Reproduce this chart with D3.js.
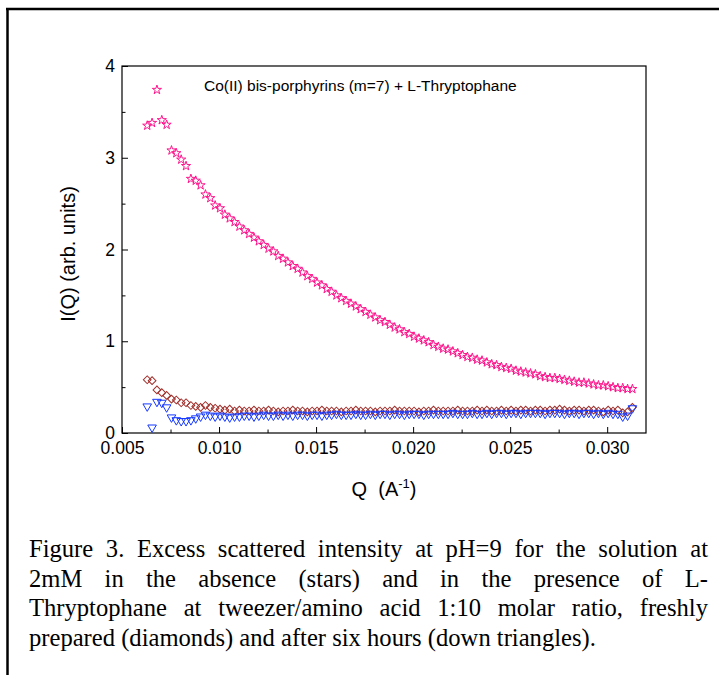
<!DOCTYPE html>
<html><head><meta charset="utf-8">
<script src="https://cdn.jsdelivr.net/npm/d3@7"></script>
<style>body{margin:0;background:#fff}svg{display:block}</style>
</head><body>
<svg id="c" width="719" height="675"></svg>
<script>
const Q = [0.0063,0.00655,0.0068,0.00705,0.0073,0.00755,0.0078,0.00805,0.0083,0.00855,
0.0088,0.00905,0.0093,0.00955,0.0098,0.01005,0.0103,0.01055,0.0108,0.01105,
0.0113,0.01155,0.0118,0.01205,0.0123,0.01255,0.0128,0.01305,0.0133,0.01355,
0.0138,0.01405,0.0143,0.01455,0.0148,0.01505,0.0153,0.01555,0.0158,0.01605,
0.0163,0.01655,0.0168,0.01705,0.0173,0.01755,0.0178,0.01805,0.0183,0.01855,
0.0188,0.01905,0.0193,0.01955,0.0198,0.02005,0.0203,0.02055,0.0208,0.02105,
0.0213,0.02155,0.0218,0.02205,0.0223,0.02255,0.0228,0.02305,0.0233,0.02355,
0.0238,0.02405,0.0243,0.02455,0.0248,0.02505,0.0253,0.02555,0.0258,0.02605,
0.0263,0.02655,0.0268,0.02705,0.0273,0.02755,0.0278,0.02805,0.0283,0.02855,
0.0288,0.02905,0.0293,0.02955,0.0298,0.03005,0.0303,0.03055,0.0308,0.03105,
0.0313];

const starsI = [3.35,3.38,3.74,3.41,3.36,3.08,3.05,2.98,2.91,2.77,
2.75,2.70,2.60,2.56,2.48,2.45,2.38,2.34,2.30,2.25,
2.21,2.17,2.13,2.09,2.05,2.01,1.98,1.93,1.90,1.86,
1.82,1.79,1.75,1.71,1.68,1.64,1.61,1.57,1.54,1.50,
1.47,1.44,1.41,1.38,1.35,1.32,1.29,1.26,1.23,1.21,
1.18,1.15,1.13,1.10,1.08,1.05,1.03,1.01,0.99,0.96,
0.94,0.92,0.91,0.89,0.87,0.85,0.83,0.82,0.80,0.79,
0.77,0.75,0.74,0.72,0.71,0.70,0.68,0.67,0.66,0.65,
0.64,0.62,0.61,0.60,0.60,0.59,0.58,0.57,0.56,0.55,
0.55,0.54,0.53,0.52,0.52,0.51,0.50,0.49,0.49,0.48,
0.48];

const diamondsI = [0.58,0.57,0.47,0.44,0.41,0.37,0.36,0.33,0.33,0.30,
0.29,0.28,0.30,0.28,0.27,0.26,0.25,0.26,0.24,0.25,
0.24,
0.24,0.25,0.24,0.24,0.25,0.24,0.23,0.24,0.24,0.25,0.24,0.24,0.23,0.24,0.24,0.25,0.24,0.24,0.24,0.23,
0.24,0.24,0.25,0.24,0.24,0.24,0.23,0.24,0.24,0.24,0.25,0.24,0.24,0.24,0.24,0.23,0.24,0.24,0.25,0.24,
0.24,0.24,0.24,0.25,0.24,0.24,0.24,0.25,0.24,0.25,0.24,0.24,0.25,0.24,0.25,0.24,0.25,0.25,0.24,0.25,
0.25,0.24,0.25,0.25,0.26,0.25,0.24,0.25,0.25,0.24,0.25,0.25,0.24,0.23,0.25,0.24,0.25,0.22,0.23,
0.28];

const trianglesI = [0.29,0.06,0.34,0.33,0.28,0.17,0.14,0.13,0.13,0.14,
0.16,0.18,0.20,0.19,0.18,0.19,0.18,0.17,0.18,0.18,
0.19,
0.19,0.18,0.19,0.20,0.19,0.19,0.20,0.19,0.20,0.19,0.20,0.20,0.19,0.20,0.20,0.19,0.20,0.20,0.21,0.20,
0.20,0.20,0.21,0.20,0.20,0.21,0.20,0.21,0.21,0.20,0.21,0.21,0.20,0.21,0.21,0.21,0.20,0.21,0.21,0.21,
0.21,0.21,0.22,0.21,0.21,0.21,0.22,0.21,0.21,0.22,0.21,0.22,0.22,0.21,0.22,0.22,0.21,0.22,0.22,0.22,
0.22,0.21,0.22,0.22,0.22,0.21,0.22,0.22,0.21,0.22,0.22,0.21,0.22,0.21,0.22,0.21,0.21,0.18,0.19,
0.27];

const xTicks = [0.005,0.010,0.015,0.020,0.025,0.030];
const xMinor = [0.0075,0.0125,0.0175,0.0225,0.0275];
const yTicks = [0,1,2,3,4];
const yMinor = [0.5,1.5,2.5,3.5];
const legendText = "Co(II) bis-porphyrins (m=7) + L-Thryptophane";
const yTitle = "I(Q) (arb. units)";
const captionLines = [
 "Figure 3. Excess scattered intensity at pH=9 for the solution at",
 "2mM in the absence (stars) and in the presence of L-",
 "Thryptophane at tweezer/amino acid 1:10 molar ratio, freshly",
 "prepared (diamonds) and after six hours (down triangles)."
];

const svg = d3.select("#c");
const L = 122, T = 66, R = 646, B = 433;
const x = d3.scaleLinear().domain([0.005, 0.0320]).range([L, R]);
const y = d3.scaleLinear().domain([0, 4]).range([B, T]);

// outer frame (top & left)
svg.append("line").attr("x1",6).attr("x2",719).attr("y1",9).attr("y2",9).attr("stroke","#000").attr("stroke-width",2.5);
svg.append("line").attr("x1",7.5).attr("x2",7.5).attr("y1",8).attr("y2",675).attr("stroke","#000").attr("stroke-width",2.5);

const font = "Arial, 'Liberation Sans', sans-serif";

// x axis
const gx = svg.append("g").attr("transform",`translate(0,${B})`)
  .call(d3.axisBottom(x).tickValues(xTicks).tickFormat(d3.format(".3f")).tickSizeInner(-6).tickSizeOuter(0).tickPadding(9));
gx.select(".domain").remove();
gx.selectAll("text").attr("font-size",17.5).attr("font-family",font).attr("fill","#000");
gx.selectAll("line").attr("stroke","#000");
svg.append("g").attr("transform",`translate(0,${B})`)
  .call(d3.axisBottom(x).tickValues(xMinor).tickFormat("").tickSizeInner(-3.5).tickSizeOuter(0))
  .call(g=>g.select(".domain").remove()).selectAll("line").attr("stroke","#000");

// y axis
const gy = svg.append("g").attr("transform",`translate(${L},0)`)
  .call(d3.axisLeft(y).tickValues(yTicks).tickFormat(d3.format("d")).tickSizeInner(-6).tickSizeOuter(0).tickPadding(7));
gy.select(".domain").remove();
gy.selectAll("text").attr("font-size",17.5).attr("font-family",font).attr("fill","#000");
gy.selectAll("line").attr("stroke","#000");
svg.append("g").attr("transform",`translate(${L},0)`)
  .call(d3.axisLeft(y).tickValues(yMinor).tickFormat("").tickSizeInner(-3.5).tickSizeOuter(0))
  .call(g=>g.select(".domain").remove()).selectAll("line").attr("stroke","#000");

// frame box
svg.append("rect").attr("x",L).attr("y",T).attr("width",R-L).attr("height",B-T)
  .attr("fill","none").attr("stroke","#000").attr("stroke-width",1.2);

// series
function series(vals, sym, size, color, rot){
  const path = d3.symbol().type(sym).size(size)();
  svg.append("g").selectAll("path").data(Q.map((q,i)=>[q, vals[i]])).join("path")
    .attr("d", path)
    .attr("transform", d=>`translate(${x(d[0])},${y(d[1])}) rotate(${rot})`)
    .attr("fill","none").attr("stroke",color).attr("stroke-width",1);
}
series(diamondsI, d3.symbolSquare, 30, "#a0302c", 45);
series(trianglesI, d3.symbolTriangle, 32, "#1437ff", 180);
series(starsI, d3.symbolStar, 26, "#ff148c", 0);

// legend text
svg.append("text").attr("x",204).attr("y",91).attr("font-size",15.5).attr("font-family",font).text(legendText);

// axis titles
const xt = svg.append("text").attr("x",384).attr("y",496).attr("text-anchor","middle")
  .attr("font-size",20).attr("font-family",font).style("white-space","pre");
xt.append("tspan").text("Q  (A");
xt.append("tspan").attr("font-size",13).attr("dy",-8).text("-1");
xt.append("tspan").attr("dy",8).text(")");

svg.append("text").attr("transform","translate(75,254) rotate(-90)").attr("text-anchor","middle")
  .attr("font-size",20).attr("font-family",font).text(yTitle);

// caption (justified)
const capL = 29, capR = 708, capY0 = 557, capDy = 29.5;
captionLines.forEach((ln,i)=>{
  const t = svg.append("text").attr("x",capL).attr("y",capY0+i*capDy)
    .attr("font-size",24.6).attr("font-family","'Times New Roman', 'Liberation Serif', serif")
    .style("white-space","pre").text(ln);
  if(i < captionLines.length-1){
    const w = t.node().getComputedTextLength();
    const spaces = (ln.match(/ /g)||[]).length;
    t.style("word-spacing", ((capR-capL-w)/spaces)+"px");
  }
});
</script>
</body></html>
